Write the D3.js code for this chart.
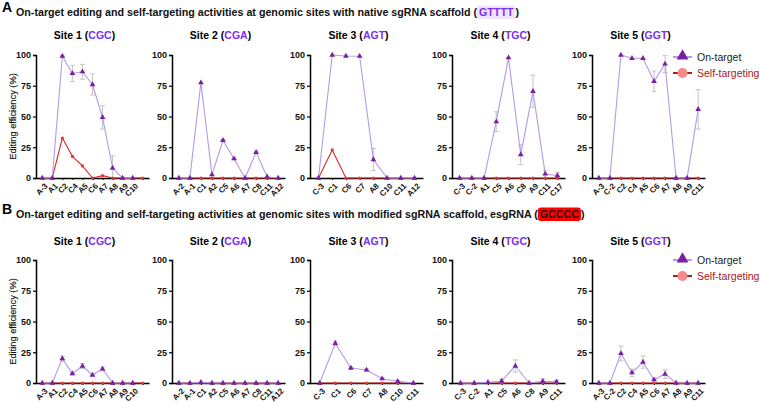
<!DOCTYPE html>
<html><head><meta charset="utf-8">
<script src="https://cdn.jsdelivr.net/npm/d3@7"></script>
<style>body{margin:0;background:#fff}svg{display:block;font-family:"Liberation Sans",Arial,sans-serif}</style>
</head><body><svg id="c" width="760" height="402"></svg>
<script>
// ---------- data ----------
const siteNames = ["Site 1", "Site 2", "Site 3", "Site 4", "Site 5"];
const pams = ["CGC", "CGA", "AGT", "TGC", "GGT"];
const yTicks = [0, 25, 50, 75, 100];

// Panel A categories
const catsA1 = ["A-3","A1","C2","C4","A5","C6","A7","A8","A9","C10",""];
const catsA2 = ["A-2","A-1","C1","A2","C5","A6","A7","C8","C11","A12"];
const catsA3 = ["C-3","C1","C6","C7","A8","C10","C11","A12"];
const catsA4 = ["C-3","C-2","A1","C5","A6","C8","A9","C11","C17"];
const catsA5 = ["A-3","C-2","C2","C4","A5","C6","A7","A8","A9","C11"];
// Panel A on-target means and SD
const onA1 = [0,0,99,85,86.4,76,49.3,8.1,0,0,null];
const sdA1 = [0,0,1,6.5,6,8.5,9.5,10,0,0,0];
const onA2 = [0,0,77.5,2.7,30.6,15.7,0,20.9,1,0];
const sdA2 = [0,0,0.5,0.5,0.8,0.8,0,0.8,0.5,0];
const onA3 = [0,100,99.2,99,15,0,0,0];
const sdA3 = [0,0.3,0.5,0.5,9,0,0,0];
const onA4 = [0,0,0,45.8,97.8,19,70.5,3.3,2];
const sdA4 = [0,0,0,8,0.5,8,13,3,2.5];
const onA5 = [0,0,100,97.3,97.3,78.6,92.7,0,0,55.8];
const sdA5 = [0,0,0.3,0.5,0.5,8.4,7,0,0,16];
// Panel A self-targeting
const selfA1 = [0,0,32.5,17.6,9.8,0,1.9,0,0,0,0];
const selfA2 = [0,0,0,0,0,0,0,0,0,0];
const selfA3 = [0,22.8,0,0,0,0,0,0];
const selfA4 = [0,0,0,0,0,0,0,0,0];
const selfA5 = [0,0,0,0,0,0,0,0,0,0];

// Panel B categories
const catsB1 = ["A-3","A1","C2","C4","A5","C6","A7","A8","A9","C10",""];
const catsB2 = ["A-2","A-1","C1","A2","C5","A6","A7","C8","C11","A12"];
const catsB3 = ["C-3","C1","C6","C7","A8","C10","C11"];
const catsB4 = ["C-3","C-2","A1","C5","A6","C8","A9","C11"];
const catsB5 = ["A-3","C-2","C2","C4","A5","C6","A7","A8","A9","C11"];
const onB1 = [0,0,19.8,7.6,13.8,6.5,11.4,0,0,0,null];
const sdB1 = [0,0,2,1,2,0.8,1.5,0,0,0,0];
const onB2 = [0,0,0.5,0,0,0,0,0,0,0];
const sdB2 = [0,0,0.3,0,0,0,0,0,0,0];
const onB3 = [0,32.2,12.2,10.6,3.5,1.4,0];
const sdB3 = [0,2,0.8,0.8,0.8,0.8,0];
const onB4 = [0,0,0.5,1.6,13.8,0,1.4,1];
const sdB4 = [0,0,0.5,1.5,5,0,2,1];
const onB5 = [0,0,24,8.4,17,2.7,7.3,0,0,0];
const sdB5 = [0,0,6,3,5,1,3.5,0,0,0];
const selfB1 = [0,0,0,0,0,0,0,0,0,0,0];
const selfB2 = [0,0,0,0,0,0,0,0,0,0];
const selfB3 = [0,0,0,0,0,0,0];
const selfB4 = [0,0,0,0,0,0,0,0];
const selfB5 = [0,0,0,0,0,0,0,0,0,0];

const legendLabels = ["On-target", "Self-targeting"];

// ---------- layout ----------
const svg = d3.select("#c");
const lefts = [36, 172, 310, 452, 592];
const plotW = 113;
const C = {onLine:"#b49ae6", onMark:"#7a1fa2", selfLine:"#d42a2a", selfMark:"#e23535",
  legSelfMark:"#f48a8a", legSelfText:"#a52020", pam:"#7b2ff0", err:"#c4c4c4"};
const TFS = 10.7;

const panels = [
  {letter:"A", y0:178, y100:55, titleY:16, siteY:39, legY:57,
   cats:[catsA1,catsA2,catsA3,catsA4,catsA5], on:[onA1,onA2,onA3,onA4,onA5],
   sd:[sdA1,sdA2,sdA3,sdA4,sdA5], self:[selfA1,selfA2,selfA3,selfA4,selfA5],
   title:"On-target editing and self-targeting activities at genomic sites with native sgRNA scaffold (",
   hl:"GTTTT", hlBg:"#efe3ff", hlFg:"#7b2ff0"},
  {letter:"B", y0:383, y100:260, titleY:218, siteY:245, legY:260,
   cats:[catsB1,catsB2,catsB3,catsB4,catsB5], on:[onB1,onB2,onB3,onB4,onB5],
   sd:[sdB1,sdB2,sdB3,sdB4,sdB5], self:[selfB1,selfB2,selfB3,selfB4,selfB5],
   title:"On-target editing and self-targeting activities at genomic sites with modified sgRNA scaffold, esgRNA (",
   hl:"GCCCC", hlBg:"#ff0000", hlFg:"#1a1a1a"}
];

const tri = d3.symbol().type(d3.symbolTriangle).size(14);

panels.forEach(p => {
  svg.append("text").attr("x", 2).attr("y", p.titleY - 4).attr("font-size", 14)
    .attr("font-weight", "bold").text(p.letter);
  const t = svg.append("text").attr("x", 16).attr("y", p.titleY).attr("font-size", TFS)
    .attr("font-weight", "bold").attr("fill", "#111").text(p.title);
  const tw = t.node().getComputedTextLength();
  const hx = 16 + tw + 1;
  const ht = svg.append("text").attr("x", hx + 1).attr("y", p.titleY).attr("font-size", TFS)
    .attr("font-weight", "bold").attr("fill", p.hlFg).text(p.hl);
  const hw = ht.node().getComputedTextLength();
  svg.insert("rect", "text").attr("x", hx - 1).attr("y", p.titleY - 10.5).attr("width", hw + 4)
    .attr("height", 13.5).attr("rx", 3).attr("fill", p.hlBg);
  svg.append("text").attr("x", hx + hw + 3).attr("y", p.titleY).attr("font-size", TFS)
    .attr("font-weight", "bold").attr("fill", "#111").text(")");

  svg.append("text").attr("transform", `translate(16,${(p.y0 + p.y100) / 2}) rotate(-90)`)
    .attr("text-anchor", "middle").attr("font-size", 9.3).attr("fill", "#111")
    .attr("stroke", "#111").attr("stroke-width", 0.15)
    .text("Editing efficiency (%)");

  for (let i = 0; i < 5; i++) {
    const L = lefts[i];
    const cats = p.cats[i];
    const x = d3.scalePoint().domain(d3.range(cats.length)).range([L, L + plotW]).padding(0.62);
    const y = d3.scaleLinear().domain([0, 100]).range([p.y0, p.y100]);
    const g = svg.append("g");

    const st = g.append("text").attr("x", L + plotW / 2 - 8).attr("y", p.siteY)
      .attr("text-anchor", "middle").attr("font-size", 10.5).attr("font-weight", "bold");
    st.append("tspan").text(siteNames[i] + " (");
    st.append("tspan").attr("fill", C.pam).text(pams[i]);
    st.append("tspan").text(")");

    const ya = g.append("g").attr("transform", `translate(${L},0)`)
      .call(d3.axisLeft(y).tickValues(yTicks).tickSize(3).tickPadding(2));
    ya.select(".domain").attr("stroke", "#000").attr("stroke-width", 1.5);
    ya.selectAll(".tick line").attr("stroke", "#000").attr("stroke-width", 1.2);
    ya.selectAll(".tick text").attr("font-size", 9).attr("font-weight", "bold")
      .attr("fill", "#111").attr("font-family", "Liberation Sans, Arial, sans-serif");

    const xa = g.append("g").attr("transform", `translate(0,${p.y0})`)
      .call(d3.axisBottom(x).tickSize(2).tickSizeOuter(0).tickFormat(k => cats[k]));
    xa.select(".domain").attr("stroke", "#000").attr("stroke-width", 1.5);
    xa.selectAll(".tick line").attr("stroke", "#000");
    xa.selectAll(".tick text").attr("font-size", 8).attr("font-weight", "bold")
      .attr("fill", "#111").attr("font-family", "Liberation Sans, Arial, sans-serif")
      .attr("text-anchor", "end").attr("dy", 0)
      .attr("transform", "translate(2,5) rotate(-45)");

    const on = p.on[i], sd = p.sd[i], self = p.self[i];
    const eb = d3.range(cats.length).filter(k => on[k] != null && sd[k] > 0.6);
    eb.forEach(k => {
      const lo = Math.max(0, on[k] - sd[k]), hi = on[k] + sd[k];
      const ex = x(k);
      g.append("line").attr("x1", ex).attr("x2", ex).attr("y1", y(lo)).attr("y2", y(hi))
        .attr("stroke", C.err).attr("stroke-width", 1);
      [lo, hi].forEach(v => { if (v > 0) g.append("line").attr("x1", ex - 2.5).attr("x2", ex + 2.5)
        .attr("y1", y(v)).attr("y2", y(v)).attr("stroke", C.err).attr("stroke-width", 1); });
    });

    const selfPts = d3.range(cats.length).map(k => [x(k), y(self[k])]);
    g.append("path").attr("d", d3.line()(selfPts)).attr("fill", "none")
      .attr("stroke", C.selfLine).attr("stroke-width", 1.1);
    g.selectAll(null).data(selfPts).join("circle").attr("cx", d => d[0]).attr("cy", d => d[1])
      .attr("r", 1.6).attr("fill", C.selfMark);

    const onIdx = d3.range(cats.length).filter(k => on[k] != null);
    const onPts = onIdx.map(k => [x(k), y(on[k])]);
    g.append("path").attr("d", d3.line()(onPts)).attr("fill", "none")
      .attr("stroke", C.onLine).attr("stroke-width", 1.1);
    g.selectAll(null).data(onPts).join("path").attr("d", tri)
      .attr("transform", d => `translate(${d[0]},${d[1]})`).attr("fill", C.onMark);
  }

  const lg = svg.append("g").attr("transform", `translate(673,${p.legY})`);
  lg.append("line").attr("x1", 0).attr("x2", 19).attr("stroke", C.onLine).attr("stroke-width", 2);
  lg.append("path").attr("d", d3.symbol().type(d3.symbolTriangle).size(60)).attr("transform", "translate(9.5,-1)")
    .attr("fill", C.onMark);
  lg.append("text").attr("x", 24).attr("y", 4).attr("font-size", 10.5).attr("fill", "#222").text(legendLabels[0]);
  lg.append("line").attr("x1", 0).attr("x2", 19).attr("y1", 16).attr("y2", 16)
    .attr("stroke", C.legSelfText).attr("stroke-width", 2);
  lg.append("circle").attr("cx", 9.5).attr("cy", 16).attr("r", 5).attr("fill", C.legSelfMark);
  lg.append("text").attr("x", 24).attr("y", 20).attr("font-size", 10.5).attr("fill", C.legSelfText).text(legendLabels[1]);
});
</script></body></html>
